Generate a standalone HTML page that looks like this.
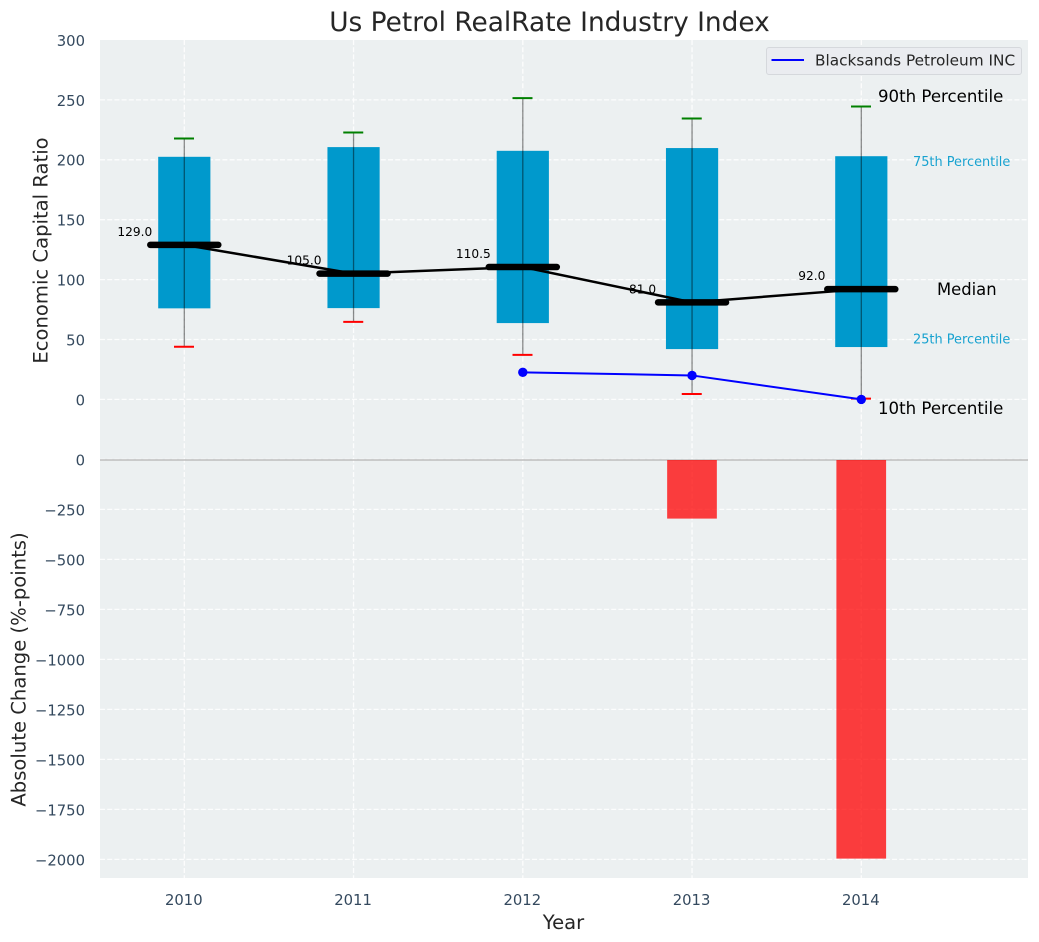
<!DOCTYPE html>
<html lang="en">
<head>
<meta charset="utf-8">
<title>Us Petrol RealRate Industry Index</title>
<style>
html,body{margin:0;padding:0;background:#fff;}
svg{display:block;font-family:"DejaVu Sans","Liberation Sans",sans-serif;}
</style>
</head>
<body>
<svg id="chart" xmlns="http://www.w3.org/2000/svg" width="1039" height="942" viewBox="0 0 1039 942">
  <rect x="0" y="0" width="1039" height="942" fill="#ffffff"/>
  <rect x="100" y="40" width="928" height="838" fill="#ecf0f1"/>
  <g id="grid"></g>
  <g id="marks"></g>
  <g id="ticks"></g>
  <text x="549.5" y="31" font-size="26.4px" fill="#262626" text-anchor="middle">Us Petrol RealRate Industry Index</text>
  <text transform="translate(47.5,250.5) rotate(-90)" font-size="19.6px" fill="#262626" text-anchor="middle">Economic Capital Ratio</text>
  <text transform="translate(25.5,669.5) rotate(-90)" font-size="19.6px" fill="#262626" text-anchor="middle">Absolute Change (%-points)</text>
  <text x="563.5" y="929" font-size="19.6px" fill="#262626" text-anchor="middle">Year</text>
  <text x="878" y="102" font-size="16.6px" fill="#000000">90th Percentile</text>
  <text x="913" y="166" font-size="12.9px" fill="#0099cc" fill-opacity="0.9">75th Percentile</text>
  <text x="937" y="295" font-size="16.4px" fill="#000000">Median</text>
  <text x="913" y="343.5" font-size="12.9px" fill="#0099cc" fill-opacity="0.9">25th Percentile</text>
  <text x="878" y="414" font-size="16.6px" fill="#000000">10th Percentile</text>
  <g>
    <rect x="766.5" y="47.5" width="255" height="27" rx="2.5" fill="#eaecf0" stroke="#d5d8dc" stroke-width="1"/>
    <line x1="771.5" y1="60" x2="804" y2="60" stroke="#0000ff" stroke-width="2"/>
    <text x="815" y="65.5" font-size="15.3px" fill="#262626">Blacksands Petroleum INC</text>
  </g>
</svg>
<script>
const years = [2010, 2011, 2012, 2013, 2014];
const p10 = [44, 64.7, 37.2, 4.5, 0.6];
const p25 = [76, 76.2, 63.7, 42, 43.7];
const median = [129, 105, 110.5, 81, 92];
const medianLabels = ["129.0", "105.0", "110.5", "81.0", "92.0"];
const p75 = [202.5, 210.6, 207.5, 209.8, 203];
const p90 = [217.8, 222.8, 251.5, 234.5, 244.5];
const companyYears = [2012, 2013, 2014];
const companyValues = [22.6, 20, 0];
const changeYears = [2013, 2014];
const changeValues = [-296, -1996];
const upperTicks = [300, 250, 200, 150, 100, 50, 0];
const lowerTicks = [0, -250, -500, -750, -1000, -1250, -1500, -1750, -2000];

const X_LEFT = 100, X_RIGHT = 1028, Y_TOP = 40, Y_BOTTOM = 878, Y_SPLIT = 460;
const NS = "http://www.w3.org/2000/svg";
const gridG = document.getElementById("grid");
const marksG = document.getElementById("marks");
const ticksG = document.getElementById("ticks");

function xScale(year) { return 184.3 + (year - 2010) * 169.25; }
function yUpper(v) { return 399.4 - v * 1.198; }
function yLower(v) { return 459.4 - v * 0.2; }
function fmtTick(v) { return v < 0 ? "\u2212" + Math.abs(v) : String(v); }

function mk(parent, tag, attrs, text) {
  const el = document.createElementNS(NS, tag);
  for (const k in attrs) el.setAttribute(k, attrs[k]);
  if (text !== undefined) el.textContent = text;
  parent.appendChild(el);
  return el;
}
function gridAttrs(x1, y1, x2, y2) {
  return { x1: x1, y1: y1, x2: x2, y2: y2, stroke: "#ffffff", "stroke-width": 1.3, "stroke-dasharray": "5 2.2", "stroke-opacity": 0.85 };
}

upperTicks.forEach(function (t) {
  const y = yUpper(t);
  if (t !== 300) {
    const g = mk(gridG, "line", gridAttrs(X_LEFT, y, X_RIGHT, y));
    
    
  }
  const l = mk(ticksG, "text", { x: 85, y: y + 5.9, "font-size": "14.8px", fill: "#34495e", "text-anchor": "end" }, fmtTick(t));
  
  
});
lowerTicks.forEach(function (t) {
  const y = yLower(t);
  const g = mk(gridG, "line", gridAttrs(X_LEFT, y, X_RIGHT, y));
  
  
  const l = mk(ticksG, "text", { x: 85, y: y + 5.9, "font-size": "14.8px", fill: "#34495e", "text-anchor": "end" }, fmtTick(t));
  
  
});
years.forEach(function (yr) {
  const x = xScale(yr);
  const g = mk(gridG, "line", gridAttrs(x, Y_TOP, x, Y_BOTTOM));
  
  
  const l = mk(ticksG, "text", { x: x - 0.5, y: 905, "font-size": "14.8px", fill: "#34495e", "text-anchor": "middle" }, String(yr));
  
  
});

const divider = mk(marksG, "line", { x1: X_LEFT, y1: Y_SPLIT, x2: X_RIGHT, y2: Y_SPLIT, stroke: "#bdbdbd", "stroke-width": 1.4 });



changeYears.forEach(function (yr, i) {
  const x = xScale(yr);
  const r = mk(marksG, "rect", { x: x - 24.9, y: Y_SPLIT, width: 49.7, height: yLower(changeValues[i]) - Y_SPLIT, fill: "#ff0000", "fill-opacity": 0.75 });
  
  
});

years.forEach(function (yr, i) {
  const x = xScale(yr);
  const box = mk(marksG, "rect", { x: x - 26.1, y: yUpper(p75[i]), width: 52.2, height: yUpper(p25[i]) - yUpper(p75[i]), fill: "#0099cc" });
  
  
});

const medianPath = mk(marksG, "polyline", {
  points: years.map(function (yr, i) { return xScale(yr) + "," + yUpper(median[i]); }).join(" "),
  fill: "none", stroke: "#000000", "stroke-width": 2.5
});



years.forEach(function (yr, i) {
  const x = xScale(yr);
  const w = mk(marksG, "line", { x1: x, y1: yUpper(p90[i]), x2: x, y2: yUpper(p10[i]), stroke: "#000000", "stroke-width": 1.3, "stroke-opacity": 0.45 });
  
  
  const capTop = mk(marksG, "line", { x1: x - 10.3, y1: yUpper(p90[i]), x2: x + 9.7, y2: yUpper(p90[i]), stroke: "#008000", "stroke-width": 2 });
  
  
  const capBottom = mk(marksG, "line", { x1: x - 10.3, y1: yUpper(p10[i]), x2: x + 9.7, y2: yUpper(p10[i]), stroke: "#ff0000", "stroke-width": 2 });
  
  
  const m = mk(marksG, "line", { x1: x - 34, y1: yUpper(median[i]), x2: x + 34, y2: yUpper(median[i]), stroke: "#000000", "stroke-width": 6.5, "stroke-linecap": "round" });
  
  
  const t = mk(marksG, "text", { x: x - 49.5, y: yUpper(median[i]) - 9, "font-size": "12.2px", fill: "#000000", "text-anchor": "middle" }, medianLabels[i]);
  
  
});

const companyLine = mk(marksG, "polyline", {
  points: companyYears.map(function (yr, i) { return xScale(yr) + "," + yUpper(companyValues[i]); }).join(" "),
  fill: "none", stroke: "#0000ff", "stroke-width": 2
});


companyYears.forEach(function (yr, i) {
  const c = mk(marksG, "circle", { cx: xScale(yr), cy: yUpper(companyValues[i]), r: 4.7, fill: "#0000ff" });
  
  
});
</script>
</body>
</html>
